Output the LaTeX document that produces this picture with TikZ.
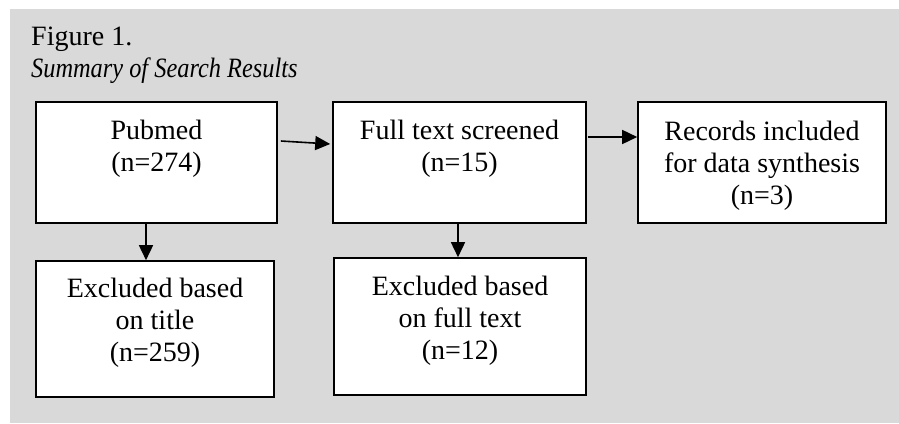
\documentclass[tikz,border=0pt]{standalone}
\usepackage{fontspec}
\setmainfont{Liberation Serif}
\newfontfamily\capfont[FakeStretch=0.87]{Liberation Serif}
\usetikzlibrary{arrows.meta,calc}
\definecolor{panelgray}{RGB}{217,217,217}
\tikzset{
  boxnode/.style={draw=black, fill=white, line width=1.6pt, inner sep=0pt, rectangle},
  textnode/.style={anchor=north, align=center, inner sep=0pt, font=\fontsize{28pt}{32pt}\selectfont},
  conn/.style={line width=1.6pt, -{Triangle[length=15pt,width=14pt]}}
}
\begin{document}
\begin{tikzpicture}[x=1pt,y=-1pt]
\useasboundingbox (0,0) rectangle (899,423);
\fill[panelgray] (10,9) rectangle (899,423);
% caption
\node[anchor=base west, inner sep=0pt, font=\fontsize{28pt}{32pt}\selectfont] (fig) at (31,45) {Figure 1.};
\node[anchor=base west, inner sep=0pt, font=\fontsize{28pt}{32pt}\selectfont\capfont\itshape] (cap) at (31,77) {Summary of Search Results};
% boxes
\node[boxnode, minimum width=241pt, minimum height=121pt] (b1) at (156.5,162.5) {};
\node[boxnode, minimum width=253pt, minimum height=121pt] (b2) at (459.5,162.5) {};
\node[boxnode, minimum width=248pt, minimum height=121pt] (b3) at (762,162.5) {};
\node[boxnode, minimum width=238pt, minimum height=136pt] (b4) at (155,329) {};
\node[boxnode, minimum width=252pt, minimum height=137pt] (b5) at (460,326.5) {};
% texts
\node[textnode] (t1) at (156.5,120) {Pubmed\\(n=274)};
\node[textnode] (t2) at (459.5,120) {Full text screened\\(n=15)};
\node[textnode] (t3) at (762,121) {Records included\\for data synthesis\\(n=3)};
\node[textnode] (t4) at (155,278) {Excluded based\\on title\\(n=259)};
\node[textnode] (t5) at (460,276) {Excluded based\\on full text\\(n=12)};
% connectors
\draw[conn] ($(b1.east)+(3,-21.5)$) -- ($(b2.west)+(-2,-18.5)$);
\draw[conn] ($(b2.east)+(1,-25.5)$) -- ($(b3.west)+(0,-25.5)$);
\draw[conn] ($(b1.south)+(-10.5,0)$) -- ($(b4.north)+(-9,0)$);
\draw[conn] ($(b2.south)+(-1.5,0)$) -- ($(b5.north)+(-2,0)$);
\end{tikzpicture}
\end{document}
